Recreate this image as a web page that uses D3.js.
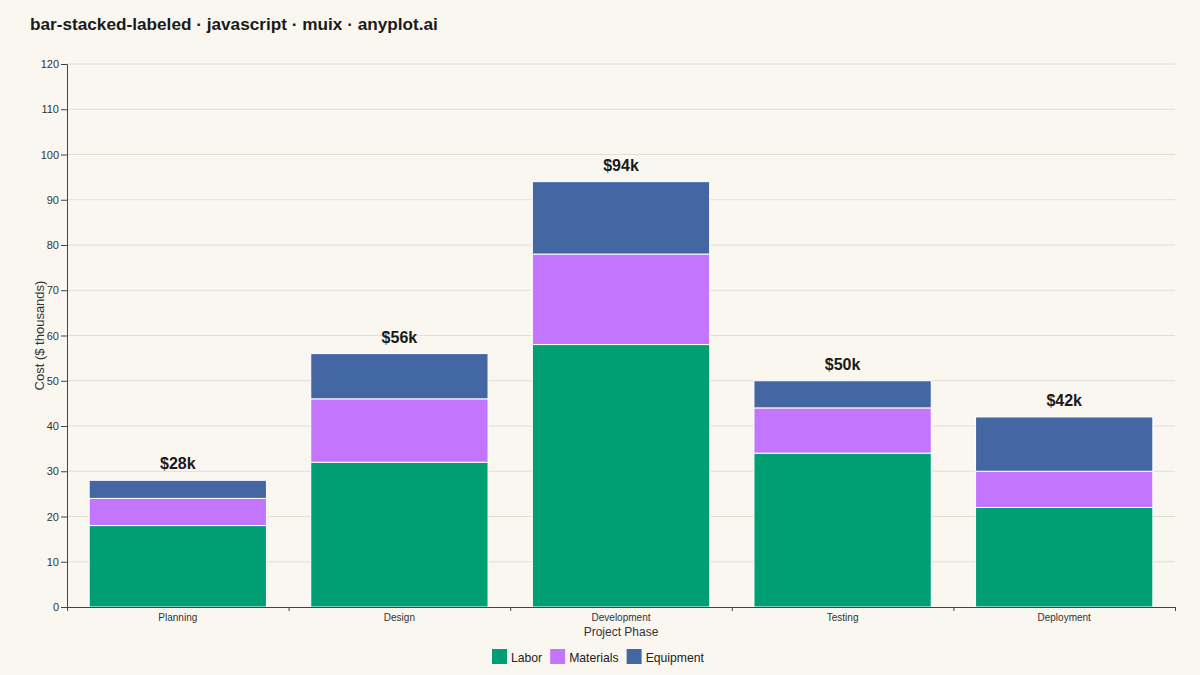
<!DOCTYPE html>
<html><head><meta charset="utf-8">
<script src="https://cdn.jsdelivr.net/npm/d3@7"></script>
<style>
html,body{margin:0;padding:0;background:#FAF7F1;}
svg{display:block;font-family:"Liberation Sans",Arial,sans-serif;}
</style></head>
<body>
<svg id="chart" width="1200" height="675"></svg>
<script>
const phases = ["Planning","Design","Development","Testing","Deployment"];
const seriesNames = ["Labor","Materials","Equipment"];
const labor = [18,32,58,34,22];
const materials = [6,14,20,10,8];
const equipment = [4,10,16,6,12];
const colors = ["#009E73","#C475FD","#4467A3"];
const yTicks = [0,10,20,30,40,50,60,70,80,90,100,110,120];

const rows = phases.map((p,i)=>({phase:p, Labor:labor[i], Materials:materials[i], Equipment:equipment[i]}));
const totals = rows.map(r=>r.Labor+r.Materials+r.Equipment);

const svg = d3.select("#chart");
svg.append("rect").attr("width",1200).attr("height",675).attr("fill","#FAF7F1");

const m = {left:67,right:1175,top:64,bottom:607};
const x = d3.scaleBand().domain(phases).range([m.left,m.right]).paddingInner(0.2).paddingOuter(0.1);
const xb = d3.scaleLinear().domain([0,phases.length]).range([m.left,m.right]);
const y = d3.scaleLinear().domain([0,120]).range([m.bottom,m.top]);

// title
svg.append("text").attr("x",30).attr("y",30).attr("font-size",17.2).attr("font-weight","bold")
  .attr("fill","#1a1a1a").text("bar-stacked-labeled · javascript · muix · anyplot.ai");

// grid
svg.append("g").selectAll("line").data(yTicks.filter(d=>d>0)).join("line")
  .attr("x1",m.left).attr("x2",m.right).attr("y1",d=>y(d)).attr("y2",d=>y(d))
  .attr("stroke","#E2DED6").attr("stroke-width",1);

// bars
const stack = d3.stack().keys(seriesNames)(rows);
svg.append("g").selectAll("g").data(stack).join("g")
  .attr("fill",(d,i)=>colors[i])
  .selectAll("rect").data(d=>d).join("rect")
  .attr("x",d=>x(d.data.phase)).attr("width",x.bandwidth())
  .attr("y",d=>y(d[1])).attr("height",d=>y(d[0])-y(d[1]))
  .attr("stroke","#FFFFFF").attr("stroke-width",1);

// totals
svg.append("g").selectAll("text").data(rows).join("text")
  .attr("x",d=>x(d.phase)+x.bandwidth()/2).attr("y",(d,i)=>y(totals[i])-11)
  .attr("text-anchor","middle").attr("font-size",16).attr("font-weight","bold").attr("fill","#1a1a1a")
  .text((d,i)=>"$"+totals[i]+"k");

// y axis
const yAxis = svg.append("g").attr("transform",`translate(${m.left},0)`)
  .call(d3.axisLeft(y).tickValues(yTicks).tickSize(6).tickPadding(2));
yAxis.selectAll("text").attr("font-size",11).attr("fill","#333").attr("font-family","Liberation Sans, Arial, sans-serif");
yAxis.selectAll("line,path").attr("stroke","#444");

// x axis boundary ticks
const xAxis = svg.append("g").attr("transform",`translate(0,${m.bottom})`)
  .call(d3.axisBottom(xb).tickValues(d3.range(phases.length+1)).tickFormat("").tickSize(4).tickSizeOuter(4));
xAxis.selectAll("line,path").attr("stroke","#444");
const xLab = svg.append("g").attr("transform",`translate(0,${m.bottom})`)
  .call(d3.axisBottom(x).tickSize(0).tickPadding(7));
xLab.select(".domain").remove();
xLab.selectAll("text").attr("font-size",10).attr("fill","#333").attr("font-family","Liberation Sans, Arial, sans-serif");

// axis titles
svg.append("text").attr("x",(m.left+m.right)/2).attr("y",636).attr("text-anchor","middle")
  .attr("font-size",12).attr("fill","#333").text("Project Phase");
svg.append("text").attr("transform",`translate(44,${(m.top+m.bottom)/2}) rotate(-90)`)
  .attr("text-anchor","middle").attr("font-size",13).attr("fill","#333").text("Cost ($ thousands)");

// legend
const legItems = seriesNames.map((n,i)=>({n, c:colors[i]}));
const leg = svg.append("g");
let lx = 492;
legItems.forEach((d,i)=>{
  const g = leg.append("g").attr("transform",`translate(${lx},649)`);
  g.append("rect").attr("width",15).attr("height",15).attr("fill",d.c);
  const t = g.append("text").attr("x",19).attr("y",12.5).attr("font-size",12.2).attr("fill","#222").text(d.n);
  lx += 19 + t.node().getComputedTextLength() + 8;
});
</script>
</body></html>
